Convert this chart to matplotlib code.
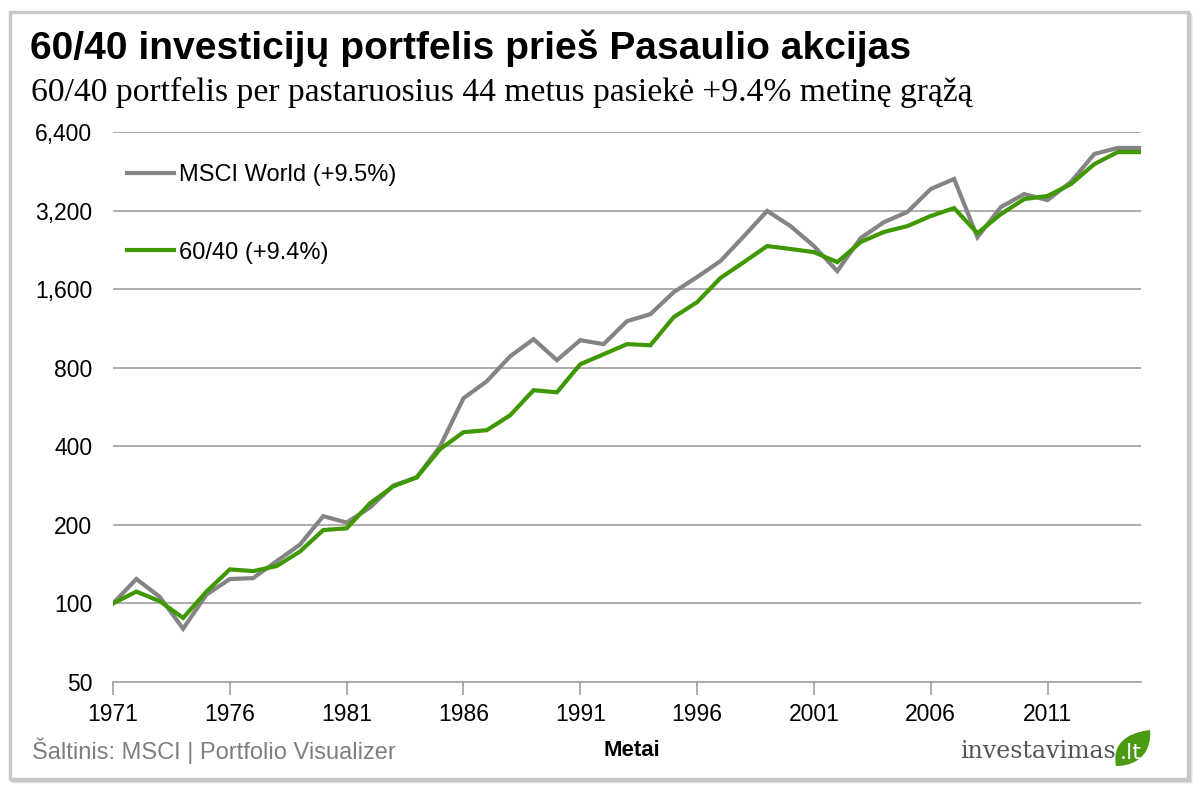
import matplotlib
matplotlib.use("Agg")
import matplotlib.pyplot as plt
from matplotlib.patches import Rectangle, PathPatch
from matplotlib.path import Path

years = list(range(1971, 2016))
msci_world = [100, 124, 106, 80, 108, 124, 125, 145, 168, 216,
              204, 233, 283, 304, 400, 611, 710, 885, 1029, 855,
              1020, 985, 1206, 1283, 1558, 1780, 2050, 2550, 3190, 2790,
              2340, 1875, 2510, 2890, 3160, 3870, 4230, 2530, 3300, 3700,
              3510, 4120, 5270, 5560, 5560]
portfolio_6040 = [100, 111, 102, 88, 111, 135, 133, 139, 158, 191,
                  194, 242, 281, 304, 390, 453, 461, 526, 656, 644,
                  825, 901, 985, 975, 1250, 1426, 1765, 2031, 2340, 2280,
                  2218, 2030, 2424, 2650, 2790, 3050, 3270, 2620, 3100, 3540,
                  3640, 4040, 4820, 5360, 5360]
series_labels = ["MSCI World (+9.5%)", "60/40 (+9.4%)"]
y_ticks = [50, 100, 200, 400, 800, 1600, 3200, 6400]
y_tick_labels = ["50", "100", "200", "400", "800", "1,600", "3,200", "6,400"]
x_ticks = [1971, 1976, 1981, 1986, 1991, 1996, 2001, 2006, 2011]

title = "60/40 investicijų portfelis prieš Pasaulio akcijas"
subtitle = "60/40 portfelis per pastaruosius 44 metus pasiekė +9.4% metinę grąžą"
source = "Šaltinis: MSCI | Portfolio Visualizer"
xlabel = "Metai"

W, H = 1200, 793
fig = plt.figure(figsize=(W / 100, H / 100), dpi=100)
fig.patch.set_facecolor("white")

def fx(x):
    return x / W

def fy(y):
    return 1 - y / H

# frame with soft shadow
for i, a in enumerate([0.05, 0.08, 0.12]):
    off = 3 - i
    fig.patches.append(Rectangle((fx(10 + off), fy(779 + off)), fx(1178), 767 / H,
                                 transform=fig.transFigure, facecolor="none",
                                 edgecolor=(0, 0, 0, a), lw=2, zorder=-3))
fig.patches.append(Rectangle((fx(10), fy(779)), fx(1178), 767 / H,
                             transform=fig.transFigure, facecolor="white",
                             edgecolor="#c9c9c9", lw=2.5, zorder=-2))

ax = fig.add_axes([fx(113), fy(682), fx(1141 - 113), (682 - 132) / H])
ax.set_zorder(2)
ax.set_facecolor("none")
GRAY = "#848484"
GREEN = "#409800"
ax.plot(years, msci_world, color=GRAY, lw=3.0, label=series_labels[0],
        solid_joinstyle="miter", zorder=3)
ax.plot(years, portfolio_6040, color=GREEN, lw=3.0, label=series_labels[1],
        solid_joinstyle="miter", zorder=4)

ax.set_yscale("log", base=2)
ax.set_ylim(50, 6400)
ax.set_xlim(1971, 2015)
ax.set_yticks(y_ticks)
ax.set_yticklabels(y_tick_labels)
ax.minorticks_off()
ax.set_xticks(x_ticks)
ax.set_xticklabels([str(x) for x in x_ticks])
ax.yaxis.grid(True, color="#a6a6a6", lw=1.3)
ax.set_axisbelow(True)
for s in ["left", "right", "top"]:
    ax.spines[s].set_visible(False)
ax.spines["bottom"].set_color("#a6a6a6")
ax.spines["bottom"].set_linewidth(1.3)
ax.tick_params(axis="y", length=0, pad=15, labelsize=16.5, labelcolor="black")
ax.tick_params(axis="x", length=9, width=1.3, color="#a6a6a6", pad=6,
               labelsize=16.5, labelcolor="black")
for lab in ax.get_xticklabels() + ax.get_yticklabels():
    lab.set_fontfamily("Liberation Sans")

leg = ax.legend(loc="upper left", bbox_to_anchor=(14 / 1028, 0.941), frameon=False,
                prop={"family": "Liberation Sans", "size": 17},
                handlelength=2.0, handletextpad=0.2, labelspacing=2.34,
                borderaxespad=0.0, borderpad=0.0)

fig.text(fx(30), fy(48), title, fontsize=28.1, fontweight="bold",
         family="Liberation Sans", va="center", ha="left")
fig.text(fx(31), fy(92), subtitle, fontsize=24.25, family="Liberation Serif",
         va="center", ha="left")
fig.text(fx(32), fy(751), source, fontsize=17, family="Liberation Sans",
         color="#7f7f7f", va="center", ha="left")
fig.text(fx(632), fy(751), xlabel, fontsize=16, fontweight="bold",
         family="Liberation Sans", va="center", ha="center")

# logo
fig.text(fx(1116), fy(752), "investavimas", fontsize=17, family="DejaVu Serif",
         color="#555555", va="center", ha="right")
leaf = Path([(1116, 766), (1112, 745), (1125, 733), (1150, 730),
             (1152, 750), (1140, 766), (1116, 766)],
            [Path.MOVETO, Path.CURVE4, Path.CURVE4, Path.CURVE4,
             Path.CURVE4, Path.CURVE4, Path.CURVE4])
verts = [(fx(x), fy(y)) for x, y in leaf.vertices]
fig.patches.append(PathPatch(Path(verts, leaf.codes), transform=fig.transFigure,
                             facecolor="#4a9a12", edgecolor="none", zorder=5))
fig.text(fx(1131), fy(753), ".lt", fontsize=16, family="DejaVu Sans",
         color="white", va="center", ha="center", zorder=6)

fig.savefig("out.png", dpi=100, facecolor="white")
